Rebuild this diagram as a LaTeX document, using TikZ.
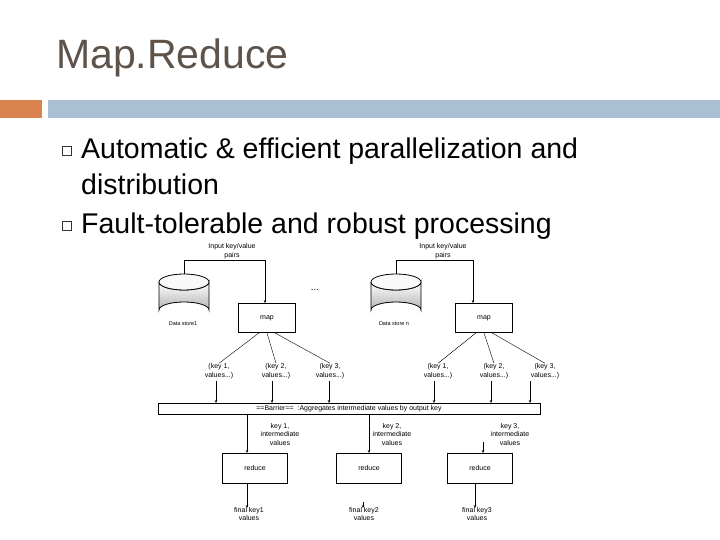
\documentclass[tikz,border=0pt]{standalone}
\usepackage{fontspec}
\setmainfont{Liberation Sans}
\usetikzlibrary{arrows.meta}
\definecolor{titlec}{HTML}{5E5249}
\definecolor{orangebar}{HTML}{D9844F}
\definecolor{bluebar}{HTML}{A9BFD3}
\begin{document}
\begin{tikzpicture}[x=1pt,y=-1pt,
  box/.style={draw,thick,minimum width=57pt,minimum height=29pt,inner sep=0pt,font=\fontsize{7}{8}\selectfont},
  rbox/.style={draw,thick,minimum width=65pt,minimum height=30pt,inner sep=0pt,font=\fontsize{7}{8}\selectfont},
  tiny/.style={font=\fontsize{7}{8.5}\selectfont,align=center,inner sep=0pt},
  arr/.style={-{Stealth[length=3pt,width=2.5pt]},thick},
  ln/.style={thin}]
\useasboundingbox (0,0) rectangle (720,540);
\node[anchor=west,text=titlec,font=\fontsize{41}{44}\selectfont,inner sep=0pt] (title) at (56,58) {Map.Reduce};
\fill[orangebar] (0,100) rectangle (42,118);
\fill[bluebar] (48,100) rectangle (720,118);
\tikzset{bul/.style={draw=black!80,line width=0.8pt,minimum size=9pt,inner sep=0pt},
 btxt/.style={anchor=west,inner sep=0pt,font=\fontsize{28.5}{30}\selectfont}}
\node[bul] (b1) at (67,151) {};
\node[bul] (b2) at (67,226) {};
\node[btxt] (t1) at (81,151) {Automatic \& efficient parallelization and};
\node[btxt] (t1b) at (81,184) {distribution};
\node[btxt] (t2) at (81,226) {Fault-tolerable and robust processing};
% cylinders
\foreach \cx/\nm in {184/dsL,396/dsR}{
  \shade[top color=white,bottom color=gray!60,draw,thick] (\cx-25,282) -- (\cx-25,310) arc[start angle=180,end angle=360,x radius=25,y radius=8] -- (\cx+25,282) arc[start angle=0,end angle=180,x radius=25,y radius=8];
  \draw[thick,fill=white!95!gray] (\cx,282) ellipse[x radius=25,y radius=8];
  \coordinate (\nm) at (\cx,274);
}
% left input
\node[tiny] (inL) at (232,251) {Input key/value\\pairs};
\node[tiny,font=\fontsize{5.5}{6}\selectfont] (dsLl) at (183,324) {Data store1};
\node[box] (mapL) at (267,318) {map};
\coordinate (cL1) at (184,260);
\coordinate (cL2) at (265,260);
\draw[thick] (dsL) -- (cL1) -- (cL2);
\draw[arr] (cL2) -- (cL2|-mapL.north);
\node[tiny,font=\fontsize{10}{10}\selectfont] (dots) at (315,290) {...};
% right input
\node[tiny] (inR) at (443,251) {Input key/value\\pairs};
\node[tiny,font=\fontsize{5.5}{6}\selectfont] (dsRl) at (394,324) {Data store n};
\node[box] (mapR) at (484,318) {map};
\coordinate (cR1) at (396,260);
\coordinate (cR2) at (473,260);
\draw[thick] (dsR) -- (cR1) -- (cR2);
\draw[arr] (cR2) -- (cR2|-mapR.north);
% barrier
\node[draw,thick,minimum width=382pt,minimum height=11pt,inner sep=0pt,font=\fontsize{7}{8}\selectfont] (bar) at (349,408.5) {==Barrier== \ :Aggregates intermediate values by output key};
% key labels
\node[tiny] (k1) at (219,371) {(key 1,\\values...)};
\node[tiny] (k2) at (276,371) {(key 2,\\values...)};
\node[tiny] (k3) at (330,371) {(key 3,\\values...)};
\node[tiny] (k4) at (438,371) {(key 1,\\values...)};
\node[tiny] (k5) at (494,371) {(key 2,\\values...)};
\node[tiny] (k6) at (545,371) {(key 3,\\values...)};
\draw[ln] ([xshift=-8pt]mapL.south) -- (k1.north);
\draw[ln] (mapL.south) -- (k2.north);
\draw[ln] ([xshift=8pt]mapL.south) -- (k3.north);
\draw[ln] ([xshift=-8pt]mapR.south) -- (k4.north);
\draw[ln] (mapR.south) -- (k5.north);
\draw[ln] ([xshift=8pt]mapR.south) -- (k6.north);
\foreach \k/\x in {k1/216,k2/272,k3/329,k4/434,k5/491,k6/530}
  \draw[arr] (\x,381) -- (\x,403);
% reduce
\node[rbox] (r1) at (255,468) {reduce};
\node[rbox] (r2) at (369,468) {reduce};
\node[rbox] (r3) at (480,468) {reduce};
\node[tiny] (i1) at (280,434) {key 1,\\intermediate\\values};
\node[tiny] (i2) at (392,434) {key 2,\\intermediate\\values};
\node[tiny] (i3) at (510,434) {key 3,\\intermediate\\values};
\draw[arr] (247,414) -- (247,453);
\draw[arr] (369,414) -- (369,453);
\draw[arr] (483,442) -- (483,453);
% finals
\node[tiny] (f1) at (249,514) {final key1\\values};
\node[tiny] (f2) at (364,514) {final key2\\values};
\node[tiny] (f3) at (477,514) {final key3\\values};
\draw[arr] (247,483) -- (247,508);
\draw[arr] (363,502) -- (363,508);
\draw[arr] (475,483) -- (475,508);
\end{tikzpicture}
\end{document}
